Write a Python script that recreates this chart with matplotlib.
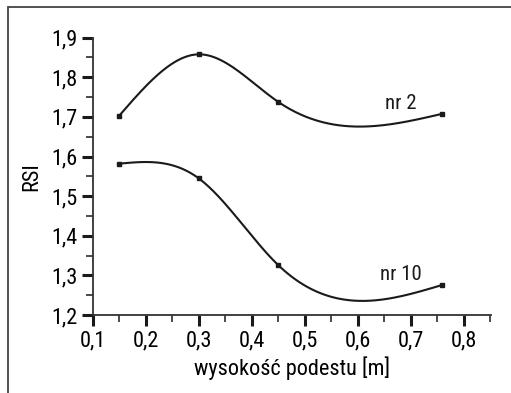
import numpy as np
import matplotlib.pyplot as plt
from matplotlib.patches import Rectangle
from matplotlib.ticker import MultipleLocator, FuncFormatter

plt.rcParams['font.family'] = ['Roboto Condensed', 'Liberation Sans', 'DejaVu Sans']

# measured RSI values for two drop-jump series
height = [0.15, 0.30, 0.45, 0.76]
rsi_nr2 = [1.703, 1.858, 1.738, 1.708]
rsi_nr10 = [1.582, 1.545, 1.326, 1.276]
series_labels = ['nr 2', 'nr 10']
label_pos = [(0.652, 1.735), (0.643, 1.303)]


def natural_spline(x, y, xs):
    x = np.asarray(x, float)
    y = np.asarray(y, float)
    n = len(x)
    h = np.diff(x)
    A = np.zeros((n, n))
    r = np.zeros(n)
    A[0, 0] = A[-1, -1] = 1
    for i in range(1, n - 1):
        A[i, i - 1] = h[i - 1]
        A[i, i] = 2 * (h[i - 1] + h[i])
        A[i, i + 1] = h[i]
        r[i] = 6 * ((y[i + 1] - y[i]) / h[i] - (y[i] - y[i - 1]) / h[i - 1])
    m = np.linalg.solve(A, r)
    k = np.clip(np.searchsorted(x, xs) - 1, 0, n - 2)
    t0 = xs - x[k]
    t1 = x[k + 1] - xs
    hk = h[k]
    return (m[k] * t1 ** 3 + m[k + 1] * t0 ** 3) / (6 * hk) \
        + (y[k] / hk - m[k] * hk / 6) * t1 + (y[k + 1] / hk - m[k + 1] * hk / 6) * t0


fig = plt.figure(figsize=(5.11, 3.93), dpi=100)
ax = fig.add_axes([0.1814, 0.1985, 0.7789, 0.7056])

# outer frame (only top and left edges fall inside the picture)
fig.patches.append(Rectangle((8 / 511, -0.2), 2, 1.2 - 7.3 / 393, fill=False,
                             edgecolor='#444444', lw=1.3, transform=fig.transFigure,
                             clip_on=False))

for y, lab, pos in zip([rsi_nr2, rsi_nr10], series_labels, label_pos):
    xs = np.linspace(height[0], height[-1], 300)
    ax.plot(xs, natural_spline(height, y, xs), color='#1a1a1a', lw=1.5)
    ax.plot(height, y, 's', color='#1a1a1a', ms=3.2)
    ax.text(pos[0], pos[1], lab, fontsize=15, ha='left', va='center', color='#1a1a1a')

ax.set_xlim(0.1, 0.851)
ax.set_ylim(1.2, 1.9)
ax.xaxis.set_major_locator(MultipleLocator(0.1))
ax.xaxis.set_minor_locator(MultipleLocator(0.05))
ax.yaxis.set_major_locator(MultipleLocator(0.1))
ax.yaxis.set_minor_locator(MultipleLocator(0.05))
comma = FuncFormatter(lambda v, p: f'{v:.1f}'.replace('.', ','))
ax.xaxis.set_major_formatter(comma)
ax.yaxis.set_major_formatter(comma)

for s in ['top', 'right']:
    ax.spines[s].set_visible(False)
for s in ['left', 'bottom']:
    ax.spines[s].set_linewidth(1.3)
    ax.spines[s].set_color('#333333')

ax.tick_params(which='major', length=8, width=2.2, labelsize=16, color='#1a1a1a', pad=3)
ax.tick_params(which='minor', length=5, width=1.1, color='#1a1a1a')

ax.set_ylabel('RSI', fontsize=16, labelpad=6)
ax.set_xlabel('wysokość podestu [m]', fontsize=16, labelpad=4)

fig.savefig('out.png', dpi=100)
